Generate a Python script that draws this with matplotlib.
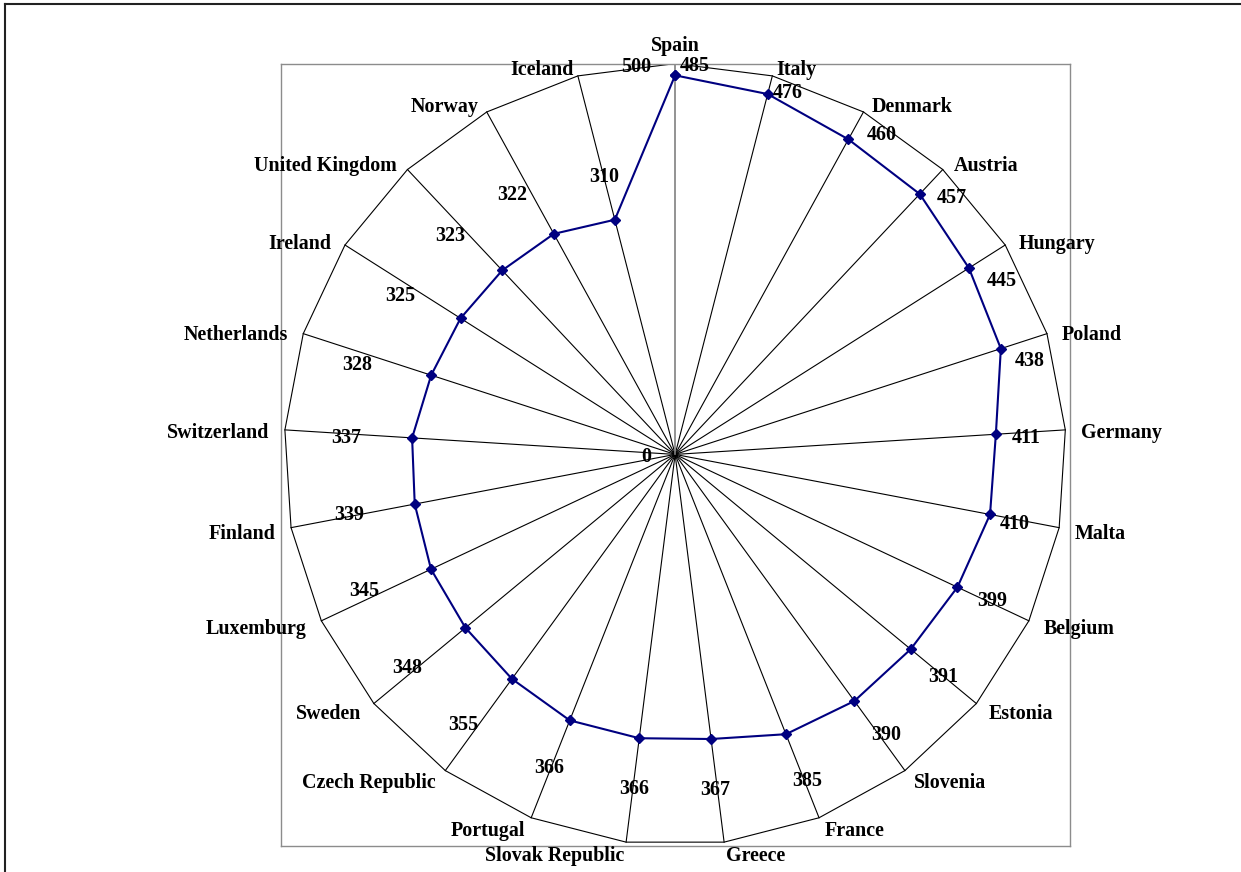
import matplotlib
matplotlib.use("Agg")
import matplotlib.pyplot as plt
from matplotlib.lines import Line2D
import numpy as np

countries = ["Spain", "Italy", "Denmark", "Austria", "Hungary", "Poland", "Germany",
             "Malta", "Belgium", "Estonia", "Slovenia", "France", "Greece",
             "Slovak Republic", "Portugal", "Czech Republic", "Sweden", "Luxemburg",
             "Finland", "Switzerland", "Netherlands", "Ireland", "United Kingdom",
             "Norway", "Iceland"]
values = [485, 476, 460, 457, 445, 438, 411, 410, 399, 391, 390, 385, 367,
          366, 366, 355, 348, 345, 339, 337, 328, 325, 323, 322, 310]
axis_max = 500

# where the value labels sit relative to their point (pixels, image x right / y down)
label_offsets = [(20, -9), (20, -1), (33, -4), (32, 4), (33, 13), (29, 12), (30, 4),
                 (25, 10), (35, 14), (32, 28), (32, 34), (21, 47), (4, 51), (-5, 51),
                 (-21, 48), (-49, 46), (-58, 40), (-67, 22), (-66, 11), (-66, 0),
                 (-74, -10), (-60, -22), (-52, -34), (-42, -39), (-11, -43)]

plt.rcParams['font.family'] = ['Liberation Serif', 'DejaVu Serif']
fs = 14.4

fig = plt.figure(figsize=(12.41, 8.72), dpi=100)
ax = fig.add_axes([281 / 1241, 26 / 872, 789 / 1241, 782 / 872])
ax.set_xlim(-504, 505)
ax.set_ylim(-501, 499.5)
ax.set_xticks([])
ax.set_yticks([])
for s in ax.spines.values():
    s.set_color('#8c8c8c')
    s.set_linewidth(1.0)

n = len(countries)
theta = np.deg2rad(np.arange(n) * 360.0 / n)
sx, sy = np.sin(theta), np.cos(theta)

# spokes and outer grid polygon
for i in range(n):
    if i == 0:
        ax.plot([0, axis_max * sx[i]], [0, axis_max * sy[i]], color='#808080', lw=1.2, zorder=2)
    else:
        ax.plot([0, axis_max * sx[i]], [0, axis_max * sy[i]], color='black', lw=0.8, zorder=1)
ax.plot(np.append(axis_max * sx, axis_max * sx[0]), np.append(axis_max * sy, axis_max * sy[0]),
        color='black', lw=0.8, zorder=1)

# data series
v = np.array(values, dtype=float)
px, py = v * sx, v * sy
ax.plot(np.append(px, px[0]), np.append(py, py[0]), color='#000080', lw=1.5,
        marker='D', markersize=4.6, markerfacecolor='#000080', markeredgecolor='#000080', zorder=3)

for i in range(n):
    dx, dy = label_offsets[i]
    ax.annotate(str(values[i]), (px[i], py[i]), xytext=(dx, -dy), textcoords='offset pixels',
                ha='center', va='center', fontsize=fs, fontweight='bold', zorder=4)

# category labels
for i in range(n):
    vx, vy = axis_max * sx[i], axis_max * sy[i]
    if abs(sx[i]) < 1e-6:
        ax.annotate(countries[i], (vx, vy), xytext=(0, 8), textcoords='offset pixels',
                    ha='center', va='bottom', fontsize=fs, fontweight='bold', annotation_clip=False)
    else:
        ha = 'left' if sx[i] > 0 else 'right'
        ax.annotate(countries[i], (vx, vy), xytext=(16 * sx[i], 10 * sy[i] - 4),
                    textcoords='offset pixels',
                    ha=ha, va='center', fontsize=fs, fontweight='bold', annotation_clip=False)

# value axis labels
for t in [0, axis_max]:
    ax.annotate(str(t), (0, t), xytext=(-24, -3), textcoords='offset pixels',
                ha='right', va='center', fontsize=fs, fontweight='bold', zorder=4)

# outer chart border (left and top only visible)
fig.add_artist(Line2D([5 / 1241, 5 / 1241], [0, 1 - 4 / 872], transform=fig.transFigure,
                      color='#222222', lw=1.5))
fig.add_artist(Line2D([5 / 1241, 1], [1 - 4 / 872, 1 - 4 / 872], transform=fig.transFigure,
                      color='#222222', lw=1.5))

fig.savefig("out.png", dpi=100)
